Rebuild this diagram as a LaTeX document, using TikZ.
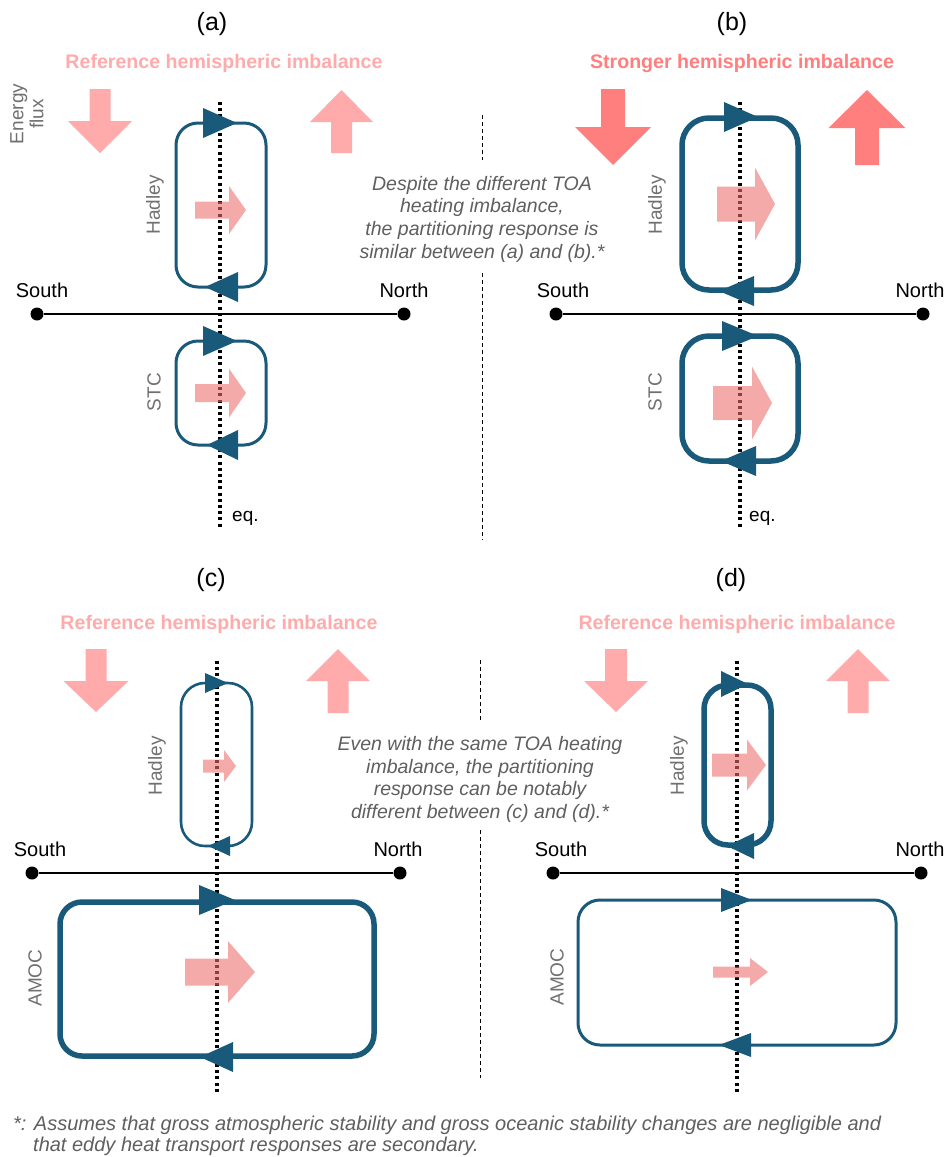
\documentclass[tikz,border=0pt]{standalone}
\usepackage{fontspec}
\setmainfont{Liberation Sans}
\definecolor{loopc}{RGB}{25,90,122}
\definecolor{refpink}{RGB}{255,171,171}
\definecolor{strpink}{RGB}{255,127,127}
\definecolor{flowpink}{RGB}{238,110,110}
\definecolor{lblgray}{RGB}{112,112,112}
\definecolor{txtgray}{RGB}{95,95,95}
\newcommand{\loopTri}[4]{\fill[loopc] (#1,#3-#4) -- (#2,#3) -- (#1,#3+#4) -- cycle;}
\newcommand{\flowR}[6]{\fill[flowpink,fill opacity=0.58] (#1,#6-#3) -- (#2,#6-#3) -- (#2,#6-#4) -- (#5,#6) -- (#2,#6+#4) -- (#2,#6+#3) -- (#1,#6+#3) -- cycle;}
% cx, shaft half, head half, shaft end y, head base y, tip y, colour
\newcommand{\fluxArrow}[7]{\fill[#7] (#1-#2,#4) -- (#1-#2,#5) -- (#1-#3,#5) -- (#1,#6) -- (#1+#3,#5) -- (#1+#2,#5) -- (#1+#2,#4) -- cycle;}
\begin{document}
\begin{tikzpicture}[x=1pt,y=-1pt,
  thinloop/.style={draw=loopc,line width=3pt},
  thickloop/.style={draw=loopc,line width=5.5pt},
  eqline/.style={draw=black,line width=3.1pt,dash pattern=on 3pt off 3.2pt},
  axisline/.style={draw=black,line width=2.6pt},
  sep/.style={draw=black,line width=0.9pt,dash pattern=on 4pt off 3pt},
  panellbl/.style={font=\fontsize{25}{28}\selectfont,inner sep=0pt},
  heading/.style={font=\fontsize{19.6}{22}\selectfont\bfseries,inner sep=0pt},
  dirlbl/.style={font=\fontsize{20}{22}\selectfont,inner sep=0pt},
  celllbl/.style={font=\fontsize{19}{21}\selectfont,text=lblgray,inner sep=0pt,rotate=90},
  note/.style={font=\fontsize{19.5}{22.7}\selectfont\itshape,text=txtgray,align=center,inner sep=0pt},
  footnote/.style={font=\fontsize{20}{22}\selectfont\itshape,text=txtgray,anchor=base west,inner sep=0pt},
  dot/.style={circle,fill=black,inner sep=0pt,minimum size=13pt}
]
\useasboundingbox (0,0) rectangle (946,1157);
\fill[white] (0,0) rectangle (946,1157);

% ---------------- separators
\draw[sep] (482,115) -- (482,160);
\draw[sep] (482,273) -- (482,540);
\draw[sep] (480,660) -- (480,722);
\draw[sep] (480,830) -- (480,1078);

% ---------------- panel labels and headings
\node[panellbl] (la) at (212,24) {(a)};
\node[panellbl] (lb) at (732,24) {(b)};
\node[panellbl] (lc) at (211,580) {(c)};
\node[panellbl] (ld) at (731,580) {(d)};
\node[heading,text=refpink] (ha) at (224,63) {Reference hemispheric imbalance};
\node[heading,text=strpink] (hb) at (742,63) {Stronger hemispheric imbalance};
\node[heading,text=refpink] (hc) at (219,624) {Reference hemispheric imbalance};
\node[heading,text=refpink] (hd) at (737,624) {Reference hemispheric imbalance};

\node[font=\fontsize{19}{20}\selectfont,text=lblgray,align=center,inner sep=0pt,rotate=90] (ef) at (27,114) {Energy\\flux};

% ---------------- energy flux arrows
\fluxArrow{100}{10.5}{32}{89}{121}{153}{refpink}
\fluxArrow{341.5}{10.5}{31.5}{153}{122}{90}{refpink}
\fluxArrow{613}{12}{38}{89}{127}{165}{strpink}
\fluxArrow{867}{12}{38.5}{165}{128}{90}{strpink}
\fluxArrow{96}{10.5}{32.5}{649}{681}{712}{refpink}
\fluxArrow{338}{10.5}{32}{713}{681}{649}{refpink}
\fluxArrow{616}{11}{32}{649}{681}{712}{refpink}
\fluxArrow{858}{10.5}{32}{713}{681}{649}{refpink}

% ---------------- loops
\draw[thinloop,rounded corners=22pt] (176,123) rectangle (266,287);
\draw[thinloop,rounded corners=22pt] (176,341) rectangle (266,445);
\draw[thickloop,rounded corners=27pt] (682,118) rectangle (798,290);
\draw[thickloop,rounded corners=27pt] (682,336) rectangle (798,461);
\draw[draw=loopc,line width=2.6pt,rounded corners=24pt] (181,683) rectangle (252,846);
\draw[thickloop,rounded corners=22pt] (60,902) rectangle (374,1056);
\draw[thickloop,rounded corners=24pt] (704,685) rectangle (771,845);
\draw[thinloop,rounded corners=22pt] (578,900) rectangle (896,1045);

% ---------------- equator lines
\draw[eqline] (220,102) -- (220,528);
\draw[eqline] (740,102) -- (740,528);
\draw[eqline] (217,661) -- (217,1092);
\draw[eqline] (737,661) -- (737,1092);

% ---------------- loop arrowheads
\loopTri{203}{237}{123}{15}
\loopTri{238}{205}{287}{15}
\loopTri{203}{237}{341}{15}
\loopTri{238}{207}{445}{15}
\loopTri{724}{758}{117}{15}
\loopTri{754}{719}{291}{15}
\loopTri{722}{758}{336}{15}
\loopTri{756}{721}{461}{15}
\loopTri{205}{228}{683}{10}
\loopTri{230}{208}{846}{10}
\loopTri{199}{235}{900}{15}
\loopTri{233}{200}{1057}{15}
\loopTri{721}{748}{684}{13}
\loopTri{754}{727}{846}{13}
\loopTri{721}{752}{900}{12}
\loopTri{751}{719}{1045}{12}

% ---------------- heat transport arrows
\flowR{195}{229}{8.5}{24}{246}{210}
\flowR{195}{229}{9}{24.5}{246}{393}
\flowR{717}{755}{17.5}{36.5}{775}{204}
\flowR{713}{752}{17}{36.5}{772}{403}
\flowR{203}{224}{6.5}{16}{236}{766}
\flowR{185}{228}{13.5}{31}{255}{972}
\flowR{712}{747}{11.5}{25.5}{766}{765}
\flowR{713}{750}{5.5}{14}{768}{972}

% ---------------- South-North axes
\node[dot] (sa) at (37,314) {};
\node[dot] (na) at (404,314) {};
\draw[axisline] (sa) -- (na);
\node[dot] (sb) at (556,314) {};
\node[dot] (nb) at (923,314) {};
\draw[axisline] (sb) -- (nb);
\node[dot] (sc) at (32,873) {};
\node[dot] (nc) at (400,873) {};
\draw[axisline] (sc) -- (nc);
\node[dot] (sd) at (553,873) {};
\node[dot] (nd) at (921,873) {};
\draw[axisline] (sd) -- (nd);

\node[dirlbl] (tsa) at (42,290) {South};
\node[dirlbl] (tna) at (404,290) {North};
\node[dirlbl] (tsb) at (563,290) {South};
\node[dirlbl] (tnb) at (920,290) {North};
\node[dirlbl] (tsc) at (40,849) {South};
\node[dirlbl] (tnc) at (398,849) {North};
\node[dirlbl] (tsd) at (561,849) {South};
\node[dirlbl] (tnd) at (920,849) {North};

\node[dirlbl,anchor=west,font=\fontsize{19}{21}\selectfont] (eqa) at (232,518) {eq.};
\node[dirlbl,anchor=west,font=\fontsize{19}{21}\selectfont] (eqb) at (749,518) {eq.};

% ---------------- cell labels
\node[celllbl] (hada) at (155,205) {Hadley};
\node[celllbl] (stca) at (154,392) {STC};
\node[celllbl] (hadb) at (657,205) {Hadley};
\node[celllbl] (stcb) at (655,392) {STC};
\node[celllbl] (hadc) at (157,766) {Hadley};
\node[celllbl] (amocc) at (35,978) {AMOC};
\node[celllbl] (hadd) at (679,766) {Hadley};
\node[celllbl] (amocd) at (557,977) {AMOC};

% ---------------- notes
\node[note] (nab) at (482,219) {Despite the different TOA\\heating imbalance,\\the partitioning response is\\similar between (a) and (b).*};
\node[note] (ncd) at (480,779.5) {Even with the same TOA heating\\imbalance, the partitioning\\response can be notably\\different between (c) and (d).*};

\node[footnote] (foot1) at (13,1130) {*: Assumes that gross atmospheric stability and gross oceanic stability changes are negligible and};
\node[footnote] (foot2) at (33,1151) {that eddy heat transport responses are secondary.};
\end{tikzpicture}
\end{document}
